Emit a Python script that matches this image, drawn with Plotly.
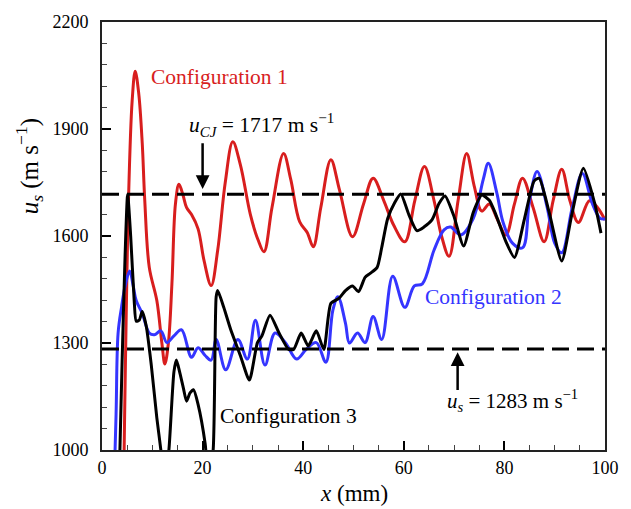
import plotly.graph_objects as go

# ---- data ----
red_x = [4.3, 5.3, 6.0, 6.6, 7.3, 8.0, 8.5, 9.4, 10.9, 11.9, 12.5, 13.2, 13.9, 14.6, 15.3, 16.1, 16.8,
         17.8, 19.1, 20.3, 21.7, 23.0, 24.5, 26.0, 27.5, 29.5, 31.0, 32.2, 33.8, 36.1, 37.5, 39.3,
         40.8, 42.0, 43.5, 45.5, 47.2, 49.8, 52.0, 53.9, 56.0, 58.0, 60.2, 62.2, 64.1, 66.0, 67.5,
         69.0, 70.8, 72.5, 74.0, 75.5, 77.0, 78.5, 80.3, 82.0, 83.6, 85.7, 87.9, 89.7, 91.4, 93.0,
         94.7, 96.9, 98.5, 100.0]
red_y = [900, 1717, 1980, 2062, 2000, 1860, 1700, 1512, 1419, 1300, 1241, 1300, 1466, 1690, 1745, 1715, 1680,
         1660, 1620, 1530, 1461, 1560, 1750, 1864, 1800, 1660, 1590, 1556, 1680, 1831, 1760, 1640,
         1610, 1570, 1680, 1814, 1730, 1598, 1690, 1762, 1700, 1630, 1584, 1700, 1795, 1700, 1600,
         1543, 1700, 1831, 1740, 1670, 1690, 1650, 1603, 1690, 1762, 1680, 1584, 1700, 1787, 1700,
         1638, 1699, 1680, 1645]

blue_x = [2.3, 2.8, 3.2, 3.9, 4.6, 5.5, 6.2, 6.8, 8.0, 9.4, 10.4, 11.7, 12.9, 14.3, 15.8, 17.8, 19.1,
          20.5, 21.7, 22.7, 24.6, 27.0, 28.9, 30.5, 32.4, 34.4, 36.5, 38.7, 40.6, 42.6, 44.5, 45.9,
          46.9, 48.4, 49.2, 50.8, 52.3, 53.9, 55.6, 57.8, 60.2, 62.1, 63.7, 66.0, 68.0, 69.3, 71.3,
          73.8, 75.8, 76.8, 78.5, 79.7, 81.6, 83.6, 85.0, 86.5, 88.5, 90.0, 91.4, 93.5, 95.5, 97.5,
          99.0, 100.0]
blue_y = [850, 1100, 1328, 1402, 1460, 1502, 1460, 1419, 1383, 1328, 1323, 1334, 1301, 1320, 1337, 1260, 1287,
          1265, 1252, 1310, 1225, 1310, 1255, 1364, 1238, 1328, 1300, 1255, 1282, 1301, 1246, 1392,
          1430, 1356, 1300, 1328, 1301, 1374, 1310, 1487, 1400, 1460, 1466, 1560, 1617, 1625, 1603,
          1649, 1759, 1804, 1720, 1640, 1580, 1567, 1700, 1781, 1680, 1580, 1553, 1680, 1775, 1690,
          1650, 1648]

black_x = [3.3, 4.0, 4.6, 5.1, 5.7, 6.4, 6.8, 7.4, 8.0, 8.8, 9.8, 10.9, 11.7, 12.4, 13.3, 14.3, 14.8,
           15.5, 16.2, 16.8, 17.5, 18.2, 19.1, 20.5, 21.2, 22.1, 22.7, 23.0, 24.2, 25.6, 27.5, 29.3,
           30.9, 31.8, 33.4, 35.2, 37.1, 38.1, 39.6, 41.0, 42.6, 44.1, 45.5, 47.1, 48.4, 49.8, 51.0,
           52.3, 53.3, 54.7, 55.6, 56.8, 58.2, 59.4, 61.0, 62.6, 64.0, 65.6, 67.0, 68.2, 69.9, 71.9,
           73.8, 75.5, 77.0, 78.3, 80.3, 82.0, 84.0, 85.9, 86.9, 88.9, 91.4, 93.4, 95.7, 97.9, 99.2]
black_y = [850, 1250, 1550, 1717, 1600, 1419, 1361, 1364, 1388, 1347, 1238, 1090, 1000, 900, 1000, 1219, 1252,
           1215, 1172, 1137, 1160, 1169, 1128, 1018, 920, 1000, 1430, 1447, 1400, 1337, 1265, 1196,
           1301, 1320, 1378, 1328, 1282, 1282, 1328, 1292, 1334, 1282, 1411, 1425, 1447, 1460, 1444,
           1484, 1495, 1512, 1567, 1649, 1694, 1718, 1660, 1615, 1625, 1645, 1691, 1712, 1658, 1572,
           1666, 1715, 1700, 1660, 1584, 1540, 1649, 1754, 1762, 1666, 1530, 1660, 1790, 1694, 1608]

u_cj = 1717
u_s = 1283

x_ticks = [0, 20, 40, 60, 80, 100]
y_ticks = [1000, 1300, 1600, 1900, 2200]

RED = "#d81e1e"
BLUE = "#3535ff"
BLACK = "#000000"
FONT = "Liberation Serif, Times New Roman, serif"

W, H = 631, 509
L, R, T, B = 102, 17, 13, 59
pw, ph = W - L - R, H - T - B

fig = go.Figure()
fig.add_trace(go.Scatter(x=red_x, y=red_y, mode="lines",
                         line=dict(color=RED, width=3, shape="spline", smoothing=1.0)))
fig.add_trace(go.Scatter(x=blue_x, y=blue_y, mode="lines",
                         line=dict(color=BLUE, width=3, shape="spline", smoothing=1.0)))
fig.add_trace(go.Scatter(x=black_x, y=black_y, mode="lines",
                         line=dict(color=BLACK, width=3, shape="spline", smoothing=0.6)))

for yv in (u_cj, u_s):
    fig.add_shape(type="line", x0=0, x1=100, y0=yv, y1=yv, xref="x", yref="y",
                  line=dict(color="black", width=3, dash="17px,8px"))

ann = []
ann.append(dict(x=9.4, y=2045, text="Configuration 1", font=dict(color=RED, size=21.5, family=FONT),
                xanchor="left", yanchor="middle", showarrow=False))
ann.append(dict(x=63.9, y=1428, text="Configuration 2", font=dict(color=BLUE, size=21.5, family=FONT),
                xanchor="left", yanchor="middle", showarrow=False))
ann.append(dict(x=23.0, y=1095, text="Configuration 3", font=dict(color=BLACK, size=21.5, family=FONT),
                xanchor="left", yanchor="middle", showarrow=False))
ann.append(dict(x=16.8, y=1911, text="<i>u</i><sub><i>CJ</i></sub> = 1717 m s<sup>−1</sup>",
                font=dict(color=BLACK, size=21.5, family=FONT),
                xanchor="left", yanchor="middle", showarrow=False))
ann.append(dict(x=68.2, y=1140, text="<i>u</i><sub><i>s</i></sub> = 1283 m s<sup>−1</sup>",
                font=dict(color=BLACK, size=21, family=FONT),
                xanchor="left", yanchor="middle", showarrow=False))
# arrows
ann.append(dict(x=20, y=1732, ax=20, ay=1864, axref="x", ayref="y", xref="x", yref="y", text="",
                showarrow=True, arrowhead=2, arrowsize=1.1, arrowwidth=2.5, arrowcolor="black"))
ann.append(dict(x=70.7, y=1274, ax=70.7, ay=1164, axref="x", ayref="y", xref="x", yref="y", text="",
                showarrow=True, arrowhead=2, arrowsize=1.1, arrowwidth=2.5, arrowcolor="black"))
# axis titles (positioned in pixels -> paper coords)
ann.append(dict(xref="paper", yref="paper", x=(358 - L) / pw, y=(H - B - 494) / ph,
                xanchor="center", yanchor="middle",
                text="<i>x</i> (mm)", showarrow=False,
                font=dict(size=23, family=FONT, color="black")))
ann.append(dict(xref="paper", yref="paper", x=(28 - L) / pw, y=(H - B - 160) / ph,
                xanchor="center", yanchor="middle",
                text="<i>u</i><sub><i>s</i></sub> (m s<sup>−1</sup>)", showarrow=False,
                textangle=-90, font=dict(size=25, family=FONT, color="black")))

fig.update_layout(
    width=W, height=H,
    margin=dict(l=L, r=R, t=T, b=B),
    paper_bgcolor="white", plot_bgcolor="white",
    showlegend=False,
    font=dict(family=FONT, size=18, color="black"),
    annotations=ann,
)
fig.update_xaxes(range=[0, 100], tickvals=x_ticks, ticks="inside", ticklen=9, tickwidth=1.5,
                 tickcolor="black", showline=True, linecolor="#222", linewidth=2, mirror=True,
                 showgrid=False, zeroline=False, tickfont=dict(size=18, family=FONT),
                 minor=dict(dtick=5, ticks="inside", ticklen=5, tickwidth=1, tickcolor="#444"))
fig.update_yaxes(range=[1000, 2200], tickvals=y_ticks, ticks="inside", ticklen=9, tickwidth=1.5,
                 tickcolor="black", showline=True, linecolor="#222", linewidth=2, mirror=True,
                 showgrid=False, zeroline=False, tickfont=dict(size=18, family=FONT),
                 ticklabelstandoff=8,
                 minor=dict(dtick=60, tick0=1000, ticks="inside", ticklen=5, tickwidth=1, tickcolor="#444"))

fig.write_html("out.html")
